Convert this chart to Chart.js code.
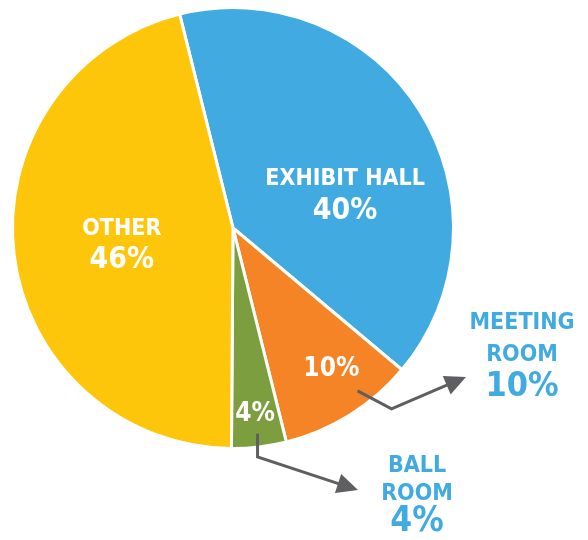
<!DOCTYPE html>
<html lang="en">
<head>
    <meta charset="UTF-8">
    <title>Espaços</title>
    <script src="https://cdn.jsdelivr.net/npm/chart.js"></script>
    <style>
        body { margin: 0; background: #ffffff; }
        canvas { display: block; }
    </style>
</head>
<body>
    <canvas id="grafico" width="588" height="540"></canvas>

<script>
    // dados do gráfico
    const categorias = ['EXHIBIT HALL', 'MEETING ROOM', 'BALL ROOM', 'OTHER'];
    const valores = [40, 10, 4, 46];
    const rotulos = ['40%', '10%', '4%', '46%'];
    const cores = ['#41abe1', '#f58426', '#7d9e3e', '#fdc60b'];

    const fonte = '"DejaVu Sans Condensed", "DejaVu Sans", sans-serif';
    const cinza = '#5f5f61';
    const azul = '#41abe1';

    // ponto dentro de uma fatia: fração do ângulo e fração do raio
    function pontoNaFatia(arc, frac, raio) {
        const ang = arc.startAngle + frac * (arc.endAngle - arc.startAngle);
        const r = raio * arc.outerRadius;
        return { x: arc.x + Math.cos(ang) * r, y: arc.y + Math.sin(ang) * r };
    }

    function texto(ctx, linhas, x, y, tamanhos, espaco, cor) {
        ctx.fillStyle = cor;
        ctx.textAlign = 'center';
        ctx.textBaseline = 'middle';
        let yy = y - (linhas.length - 1) * espaco / 2;
        linhas.forEach(function (l, i) {
            ctx.font = 'bold ' + tamanhos[i] + 'px ' + fonte;
            ctx.fillText(l, x, yy);
            yy += espaco;
        });
    }

    function seta(ctx, pontos) {
        ctx.strokeStyle = cinza;
        ctx.fillStyle = cinza;
        ctx.lineWidth = 3;
        ctx.lineJoin = 'miter';
        const n = pontos.length;
        const a = pontos[n - 2], b = pontos[n - 1];
        const ang = Math.atan2(b.y - a.y, b.x - a.x);
        const comp = 21, larg = 10;
        // linha para até a base da ponta
        ctx.beginPath();
        ctx.moveTo(pontos[0].x, pontos[0].y);
        for (let i = 1; i < n - 1; i++) ctx.lineTo(pontos[i].x, pontos[i].y);
        ctx.lineTo(b.x - Math.cos(ang) * (comp - 2), b.y - Math.sin(ang) * (comp - 2));
        ctx.stroke();
        // ponta da seta
        ctx.beginPath();
        ctx.moveTo(b.x, b.y);
        ctx.lineTo(b.x - Math.cos(ang) * comp - Math.sin(ang) * larg, b.y - Math.sin(ang) * comp + Math.cos(ang) * larg);
        ctx.lineTo(b.x - Math.cos(ang) * comp + Math.sin(ang) * larg, b.y - Math.sin(ang) * comp - Math.cos(ang) * larg);
        ctx.closePath();
        ctx.fill();
    }

    const rotulosPlugin = {
        id: 'rotulos',
        afterDraw(chart) {
            const ctx = chart.ctx;
            const arcos = chart.getDatasetMeta(0).data;
            ctx.save();

            // rótulos dentro das fatias
            let p = pontoNaFatia(arcos[0], 0.608, 0.53);
            texto(ctx, [categorias[0], rotulos[0]], p.x, p.y, [23, 30], 32, '#ffffff');
            p = pontoNaFatia(arcos[3], 0.49, 0.51);
            texto(ctx, [categorias[3], rotulos[3]], p.x, p.y, [23, 30], 31, '#ffffff');
            p = pontoNaFatia(arcos[1], 0.42, 0.78);
            texto(ctx, [rotulos[1]], p.x, p.y, [26], 0, '#ffffff');
            p = pontoNaFatia(arcos[2], 0.5, 0.85);
            texto(ctx, [rotulos[2]], p.x, p.y, [26], 0, '#ffffff');

            // setas para os rótulos de fora
            let ini = pontoNaFatia(arcos[1], 0.35, 0.93);
            seta(ctx, [ini, { x: ini.x + 34, y: ini.y + 18 }, { x: 466, y: 377 }]);
            ini = pontoNaFatia(arcos[2], 0.5, 0.94);
            seta(ctx, [ini, { x: ini.x, y: 457 }, { x: 358, y: 490 }]);

            // rótulos de fora
            texto(ctx, ['MEETING', 'ROOM', rotulos[1]], 522, 355, [23, 23, 34], 32, azul);
            texto(ctx, ['BALL', 'ROOM', rotulos[2]], 417, 494, [23, 23, 35], 28, azul);

            ctx.restore();
        }
    };

    new Chart(document.getElementById('grafico'), {
        type: 'pie',
        data: {
            labels: categorias,
            datasets: [{
                data: valores,
                backgroundColor: cores,
                borderColor: '#ffffff',
                borderWidth: 3
            }]
        },
        options: {
            responsive: false,
            animation: false,
            rotation: -14,
            layout: { padding: { left: 11, top: 6, right: 133, bottom: 90 } },
            plugins: {
                legend: { display: false },
                tooltip: { enabled: false }
            }
        },
        plugins: [rotulosPlugin]
    });
</script>
</body>
</html>
